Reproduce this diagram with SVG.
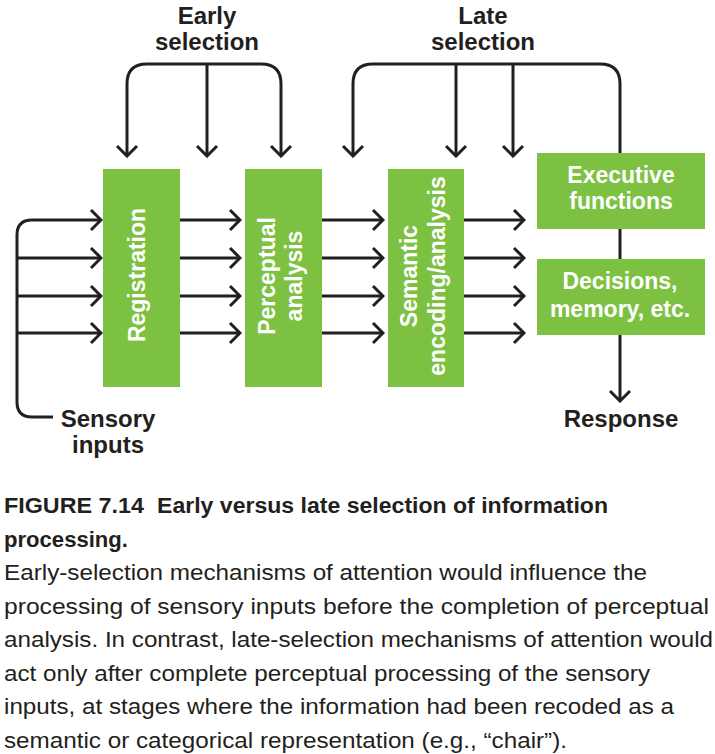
<svg xmlns="http://www.w3.org/2000/svg" width="715" height="754" viewBox="0 0 715 754">
<style>
.box{fill:#7dc142}
.lbl{font-family:"Liberation Sans",Arial,sans-serif;font-weight:bold;font-size:23px;fill:#fff;text-anchor:middle}
.dark{font-family:"Liberation Sans",Arial,sans-serif;font-weight:bold;font-size:24px;fill:#231f20;text-anchor:middle}
.cap{font-family:"Liberation Sans",Arial,sans-serif;font-size:22px;fill:#231f20}
.capb{font-family:"Liberation Sans",Arial,sans-serif;font-size:22px;font-weight:bold;fill:#231f20}
.ln{fill:none;stroke:#231f20;stroke-width:3}
</style>
<defs>
<marker id="ah" viewBox="-12 -12 14 24" markerWidth="14" markerHeight="24" refX="0" refY="0" orient="auto" markerUnits="userSpaceOnUse">
<path d="M-10,-10 L0,0 L-10,10" fill="none" stroke="#231f20" stroke-width="3"/>
</marker>
</defs>
<rect width="715" height="754" fill="#fff"/>

<g id="connectors" class="ln">
<!-- early selection bracket -->
<path d="M147,64 H261"/>
<path d="M147,64 Q127,64 127,84 V156" marker-end="url(#ah)"/>
<path d="M207,64 V156" marker-end="url(#ah)"/>
<path d="M261,64 Q281,64 281,84 V156" marker-end="url(#ah)"/>
<!-- late selection bracket -->
<path d="M373,64 H600 Q620,64 620,84 V153"/>
<path d="M373,64 Q353,64 353,84 V156" marker-end="url(#ah)"/>
<path d="M456,64 V156" marker-end="url(#ah)"/>
<path d="M513,64 V156" marker-end="url(#ah)"/>
<!-- sensory inputs -->
<path d="M53,417 H32 Q17,417 17,402 V235 Q17,220 32,220 H101" marker-end="url(#ah)"/>
<path d="M17,258 H101" marker-end="url(#ah)"/>
<path d="M17,296 H101" marker-end="url(#ah)"/>
<path d="M17,333 H101" marker-end="url(#ah)"/>
<!-- registration to perceptual -->
<path d="M180,220 H240" marker-end="url(#ah)"/>
<path d="M180,258 H240" marker-end="url(#ah)"/>
<path d="M180,296 H240" marker-end="url(#ah)"/>
<path d="M180,333 H240" marker-end="url(#ah)"/>
<!-- perceptual to semantic -->
<path d="M322,220 H383" marker-end="url(#ah)"/>
<path d="M322,258 H383" marker-end="url(#ah)"/>
<path d="M322,296 H383" marker-end="url(#ah)"/>
<path d="M322,333 H383" marker-end="url(#ah)"/>
<!-- semantic out -->
<path d="M464,220 H524" marker-end="url(#ah)"/>
<path d="M464,258 H524" marker-end="url(#ah)"/>
<path d="M464,296 H524" marker-end="url(#ah)"/>
<path d="M464,333 H524" marker-end="url(#ah)"/>
<!-- executive to decisions -->
<path d="M620,229 V259"/>
<!-- decisions to response -->
<path d="M620,335 V401" marker-end="url(#ah)"/>
</g>

<g id="early-selection">
<text class="dark" x="207" y="24">Early</text>
<text class="dark" x="207" y="50">selection</text>
</g>
<g id="late-selection">
<text class="dark" x="483" y="24">Late</text>
<text class="dark" x="483" y="50">selection</text>
</g>

<g id="registration">
<rect class="box" x="103" y="169" width="77" height="218"/>
<text class="lbl" transform="translate(145,275) rotate(-90)">Registration</text>
</g>
<g id="perceptual">
<rect class="box" x="245" y="169" width="77" height="218"/>
<text class="lbl" transform="translate(275,276) rotate(-90)">Perceptual</text>
<text class="lbl" transform="translate(302,276) rotate(-90)">analysis</text>
</g>
<g id="semantic">
<rect class="box" x="388" y="169" width="76" height="218"/>
<text class="lbl" transform="translate(417,276) rotate(-90)">Semantic</text>
<text class="lbl" transform="translate(445,276) rotate(-90)">encoding/analysis</text>
</g>
<g id="executive">
<rect class="box" x="537" y="153" width="168" height="76"/>
<text class="lbl" x="621" y="183">Executive</text>
<text class="lbl" x="621" y="209">functions</text>
</g>
<g id="decisions">
<rect class="box" x="537" y="259" width="168" height="76"/>
<text class="lbl" x="620" y="289">Decisions,</text>
<text class="lbl" x="620" y="317">memory, etc.</text>
</g>
<g id="sensory-inputs">
<text class="dark" x="108" y="427">Sensory</text>
<text class="dark" x="108" y="453">inputs</text>
</g>
<g id="response">
<text class="dark" x="621" y="427">Response</text>
</g>

<g id="caption">
<text class="capb" x="4" y="513" textLength="140" lengthAdjust="spacingAndGlyphs">FIGURE 7.14</text>
<text class="capb" x="157" y="513" textLength="451" lengthAdjust="spacingAndGlyphs">Early versus late selection of information</text>
<text class="capb" x="4" y="546.5" textLength="124" lengthAdjust="spacingAndGlyphs">processing.</text>
<text class="cap" x="4" y="580" textLength="643" lengthAdjust="spacingAndGlyphs">Early-selection mechanisms of attention would influence the</text>
<text class="cap" x="4" y="613.5" textLength="705" lengthAdjust="spacingAndGlyphs">processing of sensory inputs before the completion of perceptual</text>
<text class="cap" x="4" y="647" textLength="709" lengthAdjust="spacingAndGlyphs">analysis. In contrast, late-selection mechanisms of attention would</text>
<text class="cap" x="4" y="680.5" textLength="646" lengthAdjust="spacingAndGlyphs">act only after complete perceptual processing of the sensory</text>
<text class="cap" x="4" y="714" textLength="670" lengthAdjust="spacingAndGlyphs">inputs, at stages where the information had been recoded as a</text>
<text class="cap" x="4" y="747.5" textLength="563" lengthAdjust="spacingAndGlyphs">semantic or categorical representation (e.g., “chair”).</text>
</g>
</svg>
